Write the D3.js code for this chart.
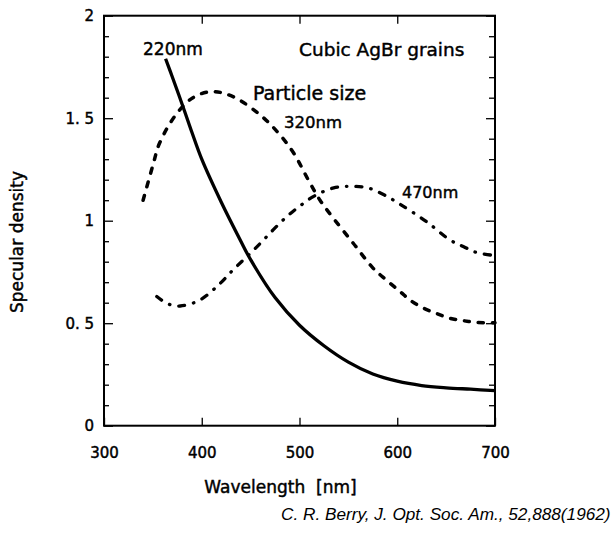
<!DOCTYPE html>
<html>
<head>
<meta charset="utf-8">
<script src="https://cdn.jsdelivr.net/npm/d3@7/dist/d3.min.js"></script>
<style>
    html, body { margin: 0; padding: 0; background: #fff; }
    svg { display: block; }
    .heavy { stroke: #000; stroke-width: 0.45px; }
</style>
</head>
<body>
<div id="chart"></div>
<script>
//----- DATA ---------------------------------------//
var WAVELENGTH_TICKS = [300, 400, 500, 600, 700];
var DENSITY_TICKS = [0, 0.5, 1, 1.5, 2];

// 220nm grains (solid)
var WAVELENGTH_220 = [363, 370, 382, 390, 400, 420, 440, 450, 475, 500, 525, 550, 575, 600, 625, 650, 675, 700];
var DENSITY_220 = [1.79, 1.70, 1.54, 1.43, 1.30, 1.09, 0.90, 0.81, 0.625, 0.49, 0.39, 0.31, 0.252, 0.217, 0.196, 0.185, 0.178, 0.171];

// 320nm grains (dashed)
var WAVELENGTH_320 = [340, 350, 357, 374, 391, 410, 432, 460, 478, 494, 510, 521, 535, 555, 575, 589, 603, 613, 627, 640, 654, 668, 681, 700];
var DENSITY_320 = [1.10, 1.27, 1.38, 1.52, 1.60, 1.63, 1.605, 1.515, 1.43, 1.33, 1.19, 1.10, 1.01, 0.89, 0.77, 0.71, 0.654, 0.613, 0.573, 0.548, 0.524, 0.512, 0.504, 0.502];

// 470nm grains (dash-dot)
var WAVELENGTH_470 = [354, 365, 378, 398, 419, 432, 446, 460, 473, 487, 500, 515, 535, 552, 570, 587, 603, 630, 654, 668, 681, 700];
var DENSITY_470 = [0.63, 0.595, 0.584, 0.613, 0.695, 0.76, 0.824, 0.89, 0.955, 1.02, 1.07, 1.12, 1.16, 1.168, 1.16, 1.125, 1.08, 0.995, 0.906, 0.873, 0.845, 0.83];

var SERIES = [
    { name: '220nm', x: WAVELENGTH_220, y: DENSITY_220, dash: null,        width: 3.3 },
    { name: '320nm', x: WAVELENGTH_320, y: DENSITY_320, dash: '5,9',       width: 3.5 },
    { name: '470nm', x: WAVELENGTH_470, y: DENSITY_470, dash: '6,9,0.5,9', width: 3.3 }
];

var LABELS = [
    { text: '220nm',             x: 143, y: 55,  size: 17 },
    { text: 'Cubic AgBr grains', x: 299, y: 56,  size: 18.5 },
    { text: 'Particle size',     x: 253, y: 100, size: 19 },
    { text: '320nm',             x: 284, y: 128, size: 16.5 },
    { text: '470nm',             x: 402, y: 198, size: 16 }
];

(function (d3) {
    'use strict';

    //----- SETTINGS -----------------------------------//
    var WIDTH = 616,
        HEIGHT = 533,
        LEFT = 104,
        RIGHT = 495,
        TOP = 15.7,
        BOTTOM = 425.7,
        GOTHIC = '"DejaVu Sans", sans-serif',
        TICK_FONT = 15;

    var x = d3.scaleLinear().domain([300, 700]).range([LEFT, RIGHT]);
    var y = d3.scaleLinear().domain([0, 2]).range([BOTTOM, TOP]);

    var minorTicks = d3.range(1, 20).map(function (i) { return i / 10; })
        .filter(function (v) { return Math.abs(v * 2 - Math.round(v * 2)) > 1e-6; });

    var svg = d3.select('#chart').append('svg')
        .attr('width', WIDTH)
        .attr('height', HEIGHT);

    svg.append('rect')
        .attr('width', WIDTH).attr('height', HEIGHT)
        .attr('fill', '#fff');

    //----- AXES ---------------------------------------//
    function styleAxis(g) {
        g.select('.domain').remove();
        g.selectAll('line').attr('stroke', '#000').attr('stroke-width', 1.3);
        g.selectAll('text')
            .attr('class', 'heavy')
            .attr('fill', '#000')
            .attr('font-family', GOTHIC)
            .attr('font-size', TICK_FONT);
    }

    function formatDensity(d) {
        return d % 1 === 0 ? String(d) : String(d).replace('.', '. ');
    }

    svg.append('g')
        .attr('transform', 'translate(' + LEFT + ',0)')
        .call(d3.axisLeft(y).tickValues(DENSITY_TICKS).tickSize(-9).tickPadding(10).tickFormat(formatDensity))
        .call(styleAxis);

    svg.append('g')
        .attr('transform', 'translate(' + LEFT + ',0)')
        .call(d3.axisLeft(y).tickValues(minorTicks).tickSize(-5).tickFormat(''))
        .call(styleAxis);

    svg.append('g')
        .attr('transform', 'translate(' + RIGHT + ',0)')
        .call(d3.axisRight(y).tickValues(DENSITY_TICKS).tickSize(-9).tickFormat(''))
        .call(styleAxis);

    svg.append('g')
        .attr('transform', 'translate(' + RIGHT + ',0)')
        .call(d3.axisRight(y).tickValues(minorTicks).tickSize(-6).tickFormat(''))
        .call(styleAxis);

    svg.append('g')
        .attr('transform', 'translate(0,' + BOTTOM + ')')
        .call(d3.axisBottom(x).tickValues(WAVELENGTH_TICKS).tickSize(-8).tickPadding(21.5).tickFormat(d3.format('d')))
        .call(styleAxis);

    svg.append('g')
        .attr('transform', 'translate(0,' + TOP + ')')
        .call(d3.axisTop(x).tickValues(WAVELENGTH_TICKS.slice(1, -1)).tickSize(-8).tickFormat(''))
        .call(styleAxis);

    //----- FRAME --------------------------------------//
    svg.append('rect')
        .attr('x', LEFT).attr('y', TOP)
        .attr('width', RIGHT - LEFT).attr('height', BOTTOM - TOP)
        .attr('fill', 'none')
        .attr('stroke', '#000')
        .attr('stroke-width', 2);

    //----- CURVES -------------------------------------//
    var line = d3.line()
        .x(function (d) { return x(d[0]); })
        .y(function (d) { return y(d[1]); })
        .curve(d3.curveCatmullRom.alpha(0.5));

    svg.append('g').selectAll('path')
        .data(SERIES).enter()
        .append('path')
            .attr('fill', 'none')
            .attr('stroke', '#000')
            .attr('stroke-width', function (s) { return s.width; })
            .attr('stroke-linecap', function (s) { return s.dash ? 'round' : 'butt'; })
            .attr('stroke-dasharray', function (s) { return s.dash; })
            .attr('d', function (s) { return line(d3.zip(s.x, s.y)); });

    //----- ANNOTATIONS --------------------------------//
    svg.append('g').selectAll('text')
        .data(LABELS).enter()
        .append('text')
            .attr('class', 'heavy')
            .attr('x', function (d) { return d.x; })
            .attr('y', function (d) { return d.y; })
            .attr('font-family', GOTHIC)
            .attr('font-size', function (d) { return d.size; })
            .text(function (d) { return d.text; });

    //----- AXIS TITLES --------------------------------//
    svg.append('text')
        .attr('class', 'heavy')
        .attr('x', 280.5).attr('y', 493)
        .attr('text-anchor', 'middle')
        .attr('font-family', GOTHIC)
        .attr('font-size', 17)
        .attr('xml:space', 'preserve')
        .text('Wavelength  [nm]');

    svg.append('text')
        .attr('class', 'heavy')
        .attr('transform', 'translate(23,242) rotate(-90)')
        .attr('text-anchor', 'middle')
        .attr('font-family', GOTHIC)
        .attr('font-size', 17)
        .text('Specular density');

    svg.append('text')
        .attr('x', 281).attr('y', 520)
        .attr('font-family', '"Liberation Sans", Arial, sans-serif')
        .attr('font-style', 'italic')
        .attr('font-size', 17.2)
        .text('C. R. Berry, J. Opt. Soc. Am., 52,888(1962)');

})(d3);
</script>
</body>
</html>
